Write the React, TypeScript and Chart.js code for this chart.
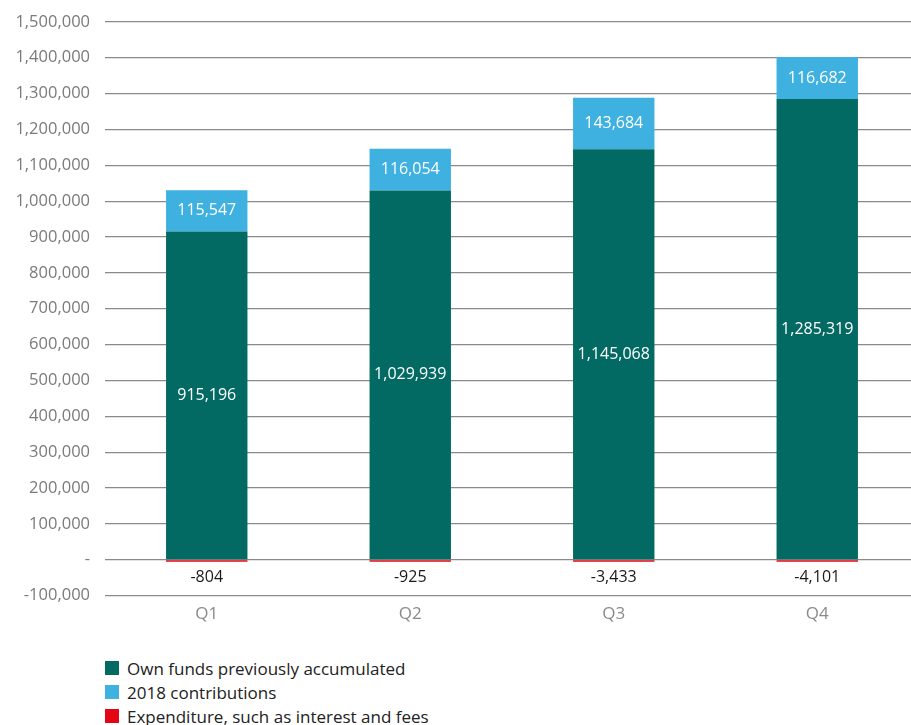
import React, { useEffect, useRef } from "react";
import { Chart, registerables } from "chart.js";

Chart.register(...registerables);

const categories = ["Q1", "Q2", "Q3", "Q4"];
const ownFunds = [915196, 1029939, 1145068, 1285319];
const contributions = [115547, 116054, 143684, 116682];
const expenditure = [-804, -925, -3433, -4101];
const seriesNames = [
  "Own funds previously accumulated",
  "2018 contributions",
  "Expenditure, such as interest and fees",
];
const seriesColors = ["#026A63", "#3EB1E1", "#E30613"];

const FONT = "'Open Sans', 'Noto Sans', sans-serif";
const fmt = (v: number) => Math.abs(v).toLocaleString("en-US");

const labelPlugin = {
  id: "barLabels",
  afterDatasetsDraw(chart: any) {
    const ctx = chart.ctx;
    const yScale = chart.scales.y;
    ctx.save();
    ctx.textAlign = "center";
    ctx.textBaseline = "middle";
    ctx.font = `16px ${FONT}`;
    chart.data.datasets.forEach((ds: any, di: number) => {
      const meta = chart.getDatasetMeta(di);
      meta.data.forEach((el: any, i: number) => {
        const v = ds.data[i];
        if (di === 2) {
          ctx.fillStyle = "#1a1a1a";
          const y0 = yScale.getPixelForValue(0);
          const y1 = yScale.getPixelForValue(-100000);
          ctx.fillText("-" + fmt(v), el.x, (y0 + y1) / 2);
        } else {
          ctx.fillStyle = "#ffffff";
          ctx.fillText(fmt(v), el.x, (el.y + el.base) / 2);
        }
      });
    });
    ctx.restore();
  },
};

export default function App() {
  const ref = useRef<HTMLCanvasElement>(null);
  useEffect(() => {
    if (!ref.current) return;
    const chart = new Chart(ref.current, {
      type: "bar",
      data: {
        labels: categories,
        datasets: [
          { label: seriesNames[0], data: ownFunds, backgroundColor: seriesColors[0] },
          { label: seriesNames[1], data: contributions, backgroundColor: seriesColors[1] },
          { label: seriesNames[2], data: expenditure, backgroundColor: seriesColors[2], minBarLength: 2 },
        ],
      },
      options: {
        animation: false,
        responsive: false,
        maintainAspectRatio: false,
        datasets: { bar: { barPercentage: 0.4, categoryPercentage: 1 } },
        layout: { padding: { top: 9, bottom: 3, left: 0, right: 0 } },
        plugins: { legend: { display: false }, tooltip: { enabled: false } },
        scales: {
          x: {
            stacked: true,
            grid: { display: false },
            border: { display: false },
            ticks: { color: "#8a8a8a", font: { family: FONT, size: 17 }, padding: 0 },
          },
          y: {
            stacked: true,
            min: -100000,
            max: 1500000,
            border: { display: false },
            grid: { color: "#8a8a8a", lineWidth: 1.2, drawTicks: false },
            ticks: {
              stepSize: 100000,
              color: "#7a7a7a",
              padding: 15,
              font: { family: FONT, size: 16.5 },
              callback: (v: any) => (Number(v) === 0 ? "-" : Number(v).toLocaleString("en-US")),
            },
            afterFit: (scale: any) => {
              scale.width = 105;
            },
          },
        },
      },
      plugins: [labelPlugin],
    });
    return () => chart.destroy();
  }, []);

  return (
    <div style={{ position: "fixed", left: 0, top: 0, width: 911, height: 725, overflow: "hidden", background: "#fff" }}>
      <canvas
        ref={ref}
        width={919}
        height={630}
        style={{ display: "block", position: "absolute", left: 0, top: -3, width: 919, height: 630 }}
      />
      <div style={{ position: "absolute", left: 105, top: 656, fontFamily: FONT, fontSize: 17, color: "#222" }}>
        {seriesNames.map((n, i) => (
          <div key={n} style={{ display: "flex", alignItems: "center", height: 24 }}>
            <span style={{ display: "inline-block", width: 14, height: 14, background: seriesColors[i], marginRight: 8 }} />
            <span>{n}</span>
          </div>
        ))}
      </div>
    </div>
  );
}
